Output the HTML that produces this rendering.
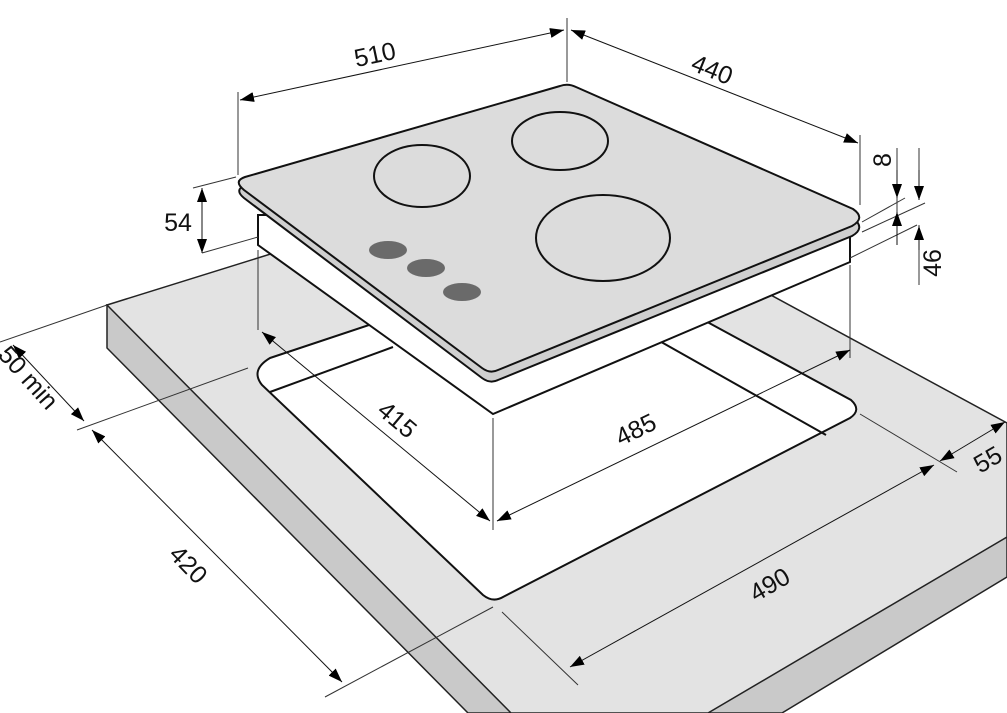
<!DOCTYPE html>
<html><head><meta charset="utf-8"><style>
html,body{margin:0;padding:0;background:#fff;width:1007px;height:713px;overflow:hidden}
svg text{font-family:"Liberation Sans Narrow","Liberation Sans",sans-serif;font-size:25px;fill:#111}
</style></head><body>
<svg width="1007" height="713" viewBox="0 0 1007 713" xmlns="http://www.w3.org/2000/svg">
<defs>
<marker id="a" viewBox="0 0 14 10" refX="14" refY="5" markerWidth="14" markerHeight="10" markerUnits="userSpaceOnUse" orient="auto-start-reverse">
<path d="M0,0 L14,5 L0,10 Z" fill="#000"/></marker>
</defs>
<!-- countertop -->
<polygon points="107,305 107,348 468,713 782,713 1007,577 1007,537" fill="#c9c9c9" stroke="#222" stroke-width="1.5"/>
<polygon points="107,305 540,170 1007,423 1007,537 708,713 511,713" fill="#e3e3e3" stroke="#222" stroke-width="1.5"/>
<!-- cutout -->
<path d="M270,358 L582,254 L851,400 Q862,410 850,418 L503,597 Q493,603 483,595 L262,385 Q250,370 270,358 Z" fill="#fff" stroke="#111" stroke-width="2"/>
<polyline points="270,392 393,347" fill="none" stroke="#111" stroke-width="2"/>
<polyline points="826,435 640,330" fill="none" stroke="#111" stroke-width="2"/>
<!-- hob box -->
<polygon points="258,215 258,245 493,414 850,262 850,215" fill="#fff" stroke="#111" stroke-width="2"/>
<!-- glass edge -->
<path d="M245,185 L560,92 Q568,90 576,94 L853,218 Q866,228 852,236 L498,380 Q490,384 482,378 L244,198 Q234,190 245,185 Z" fill="#cfcfcf" stroke="#111" stroke-width="2"/>
<!-- glass top -->
<path d="M245,177 L560,86 Q568,83 576,87 L853,209 Q866,218 852,226 L498,370 Q490,374 482,368 L244,190 Q233,181 245,177 Z" fill="#dcdcdc" stroke="#111" stroke-width="2"/>
<ellipse cx="422" cy="176" rx="48" ry="31" fill="none" stroke="#111" stroke-width="2"/>
<ellipse cx="560" cy="141" rx="48" ry="29" fill="none" stroke="#111" stroke-width="2"/>
<ellipse cx="603" cy="238" rx="67" ry="43" fill="none" stroke="#111" stroke-width="2"/>
<ellipse cx="388" cy="250" rx="19" ry="9" fill="#6a6a6a"/>
<ellipse cx="426" cy="268" rx="19" ry="9" fill="#6a6a6a"/>
<ellipse cx="462" cy="292" rx="19" ry="9" fill="#6a6a6a"/>
<!-- extension lines -->
<g stroke="#333" stroke-width="1" fill="none">
<line x1="238" y1="92" x2="238" y2="175"/>
<line x1="567" y1="18" x2="567" y2="82"/>
<line x1="860" y1="135" x2="860" y2="205"/>
<line x1="193" y1="188" x2="236" y2="177"/>
<line x1="202" y1="253" x2="258" y2="237"/>
<line x1="862" y1="222" x2="905" y2="198"/>
<line x1="862" y1="232" x2="925" y2="203"/>
<line x1="850" y1="258" x2="917" y2="225"/>
<line x1="258" y1="250" x2="258" y2="330"/>
<line x1="493" y1="418" x2="493" y2="530"/>
<line x1="850" y1="265" x2="850" y2="358"/>
<line x1="0" y1="342" x2="107" y2="305"/>
<line x1="77" y1="430" x2="248" y2="368"/>
<line x1="325" y1="697" x2="493" y2="607"/>
<line x1="502" y1="612" x2="578" y2="685"/>
<line x1="860" y1="414" x2="957" y2="472"/>
<line x1="897" y1="148" x2="897" y2="230"/>
<line x1="919" y1="148" x2="919" y2="200"/>
<line x1="919" y1="225" x2="919" y2="285"/>
</g>
<!-- dimension lines -->
<g stroke="#111" stroke-width="1" fill="none">
<line x1="240" y1="100" x2="564" y2="30" marker-start="url(#a)" marker-end="url(#a)"/>
<line x1="571" y1="30" x2="858" y2="143" marker-start="url(#a)" marker-end="url(#a)"/>
<line x1="202" y1="188" x2="202" y2="253" marker-start="url(#a)" marker-end="url(#a)"/>
<line x1="897" y1="170" x2="897" y2="198" marker-end="url(#a)"/>
<line x1="919" y1="170" x2="919" y2="200" marker-end="url(#a)"/>
<line x1="897" y1="245" x2="897" y2="212" marker-end="url(#a)"/>
<line x1="919" y1="250" x2="919" y2="226" marker-end="url(#a)"/>
<line x1="13" y1="345" x2="84" y2="421" marker-start="url(#a)" marker-end="url(#a)"/>
<line x1="92" y1="430" x2="342" y2="682" marker-start="url(#a)" marker-end="url(#a)"/>
<line x1="262" y1="332" x2="490" y2="521" marker-start="url(#a)" marker-end="url(#a)"/>
<line x1="497" y1="521" x2="850" y2="350" marker-start="url(#a)" marker-end="url(#a)"/>
<line x1="570" y1="667" x2="934" y2="465" marker-start="url(#a)" marker-end="url(#a)"/>
<line x1="940" y1="461" x2="1005" y2="422" marker-start="url(#a)" marker-end="url(#a)"/>
</g>
<!-- labels -->
<text x="375" y="63" transform="rotate(-12 375 55)" text-anchor="middle">510</text>
<text x="712" y="78" transform="rotate(22 712 70)" text-anchor="middle">440</text>
<text x="178" y="231" text-anchor="middle">54</text>
<text x="883" y="168" transform="rotate(-90 883 160)" text-anchor="middle">8</text>
<text x="933" y="271" transform="rotate(-90 933 263)" text-anchor="middle">46</text>
<text x="28" y="386" transform="rotate(48 28 378)" text-anchor="middle">50 min</text>
<text x="188" y="573" transform="rotate(46 188 565)" text-anchor="middle">420</text>
<text x="397" y="428" transform="rotate(40 397 420)" text-anchor="middle">415</text>
<text x="636" y="438" transform="rotate(-26 636 430)" text-anchor="middle">485</text>
<text x="770" y="593" transform="rotate(-30 770 585)" text-anchor="middle">490</text>
<text x="988" y="468" transform="rotate(-30 988 460)" text-anchor="middle">55</text>
</svg>
</body></html>
